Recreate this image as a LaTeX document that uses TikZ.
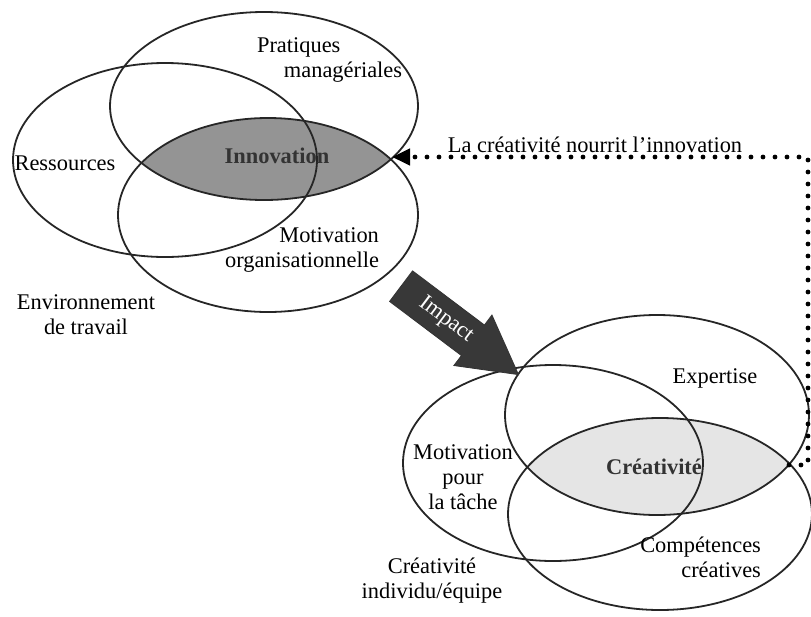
\documentclass[tikz,border=0pt]{standalone}
\usepackage{fontspec}
\setmainfont{Liberation Serif}
\usetikzlibrary{arrows.meta, positioning, shapes.arrows}

\begin{document}
\begin{tikzpicture}[
    x=0.5pt, y=-0.5pt,
    every node/.style={align=center, font=\fontsize{11.2}{12.5}\selectfont},
    venn/.style={draw=black!85, line width=0.9pt},
    lensinno/.style={fill=black!42},
    lenscrea/.style={fill=black!10},
    lenstext/.style={font=\fontsize{11.2}{12.5}\selectfont\bfseries, text=black!80},
    impactarrow/.style={single arrow, draw=black!80, fill=black!78, text=white, rotate=-37,
        single arrow head extend=6.25pt, single arrow tip angle=58,
        minimum height=73.5pt, inner xsep=2pt, inner ysep=4.5pt},
    feedback/.style={line width=2.4pt, line cap=round, dash pattern=on 0pt off 6pt,
        -{Triangle[length=9pt,width=8pt]}}
]
\useasboundingbox (0,0) rectangle (811,617);

% Lens fills (intersections)
\begin{scope}
\clip (264,106) ellipse [x radius=154, y radius=94];
\fill[lensinno] (268,215) ellipse [x radius=150, y radius=97];
\end{scope}
\begin{scope}
\clip (657,415) ellipse [x radius=152, y radius=100];
\fill[lenscrea] (660,514) ellipse [x radius=152, y radius=96];
\end{scope}

% Environnement de travail - three ellipses
\draw[venn] (264,106) ellipse [x radius=154, y radius=94];
\draw[venn] (165,160) ellipse [x radius=152, y radius=97];
\draw[venn] (268,215) ellipse [x radius=150, y radius=97];

% Creativite individu/equipe - three ellipses
\draw[venn] (657,415) ellipse [x radius=152, y radius=100];
\draw[venn] (553,463) ellipse [x radius=150, y radius=98];
\draw[venn] (660,514) ellipse [x radius=152, y radius=96];

% Labels top group
\node[align=left, anchor=west] (pratiques) at (250,60) {Pratiques\\\hspace*{1.2em}managériales};
\node (ressources) at (65,163) {Ressources};
\node[lenstext] (innovation) at (277,156) {Innovation};
\node[align=right, anchor=east] (motivorg) at (386,250) {Motivation\\organisationnelle};
\node (environnement) at (86,315) {Environnement\\de travail};

% Labels bottom group
\node (expertise) at (715,378) {Expertise};
\node (motivtache) at (463,477) {Motivation\\pour\\la tâche};
\node[lenstext] (creativite) at (654,467) {Créativité};
\node[align=right, anchor=east] (competences) at (768,557) {Compétences\\créatives};
\node (creaindiv) at (432,581) {Créativité\\individu/équipe};

% Impact arrow
\node[impactarrow] (impact) at (446,320) {Impact};

% Feedback loop
\coordinate (innotip) at (392,157);
\coordinate (creatip) at (789,465);
\coordinate (corner) at (808,157);
\node (nourrit) at (595,145) {La créativité nourrit l'innovation};
\draw[feedback] (creatip) -- (creatip -| corner) -- (corner) -- (innotip);

\end{tikzpicture}
\end{document}
